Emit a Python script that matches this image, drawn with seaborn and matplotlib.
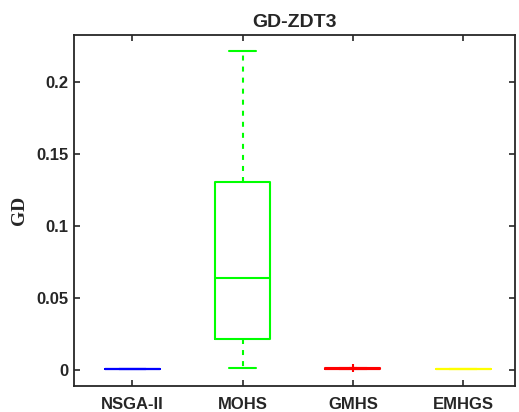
import matplotlib
matplotlib.use("Agg")
import matplotlib.pyplot as plt
import seaborn as sns
import pandas as pd

# GD values per algorithm on ZDT3
methods = ["NSGA-II", "MOHS", "GMHS", "EMHGS"]
nsga2_gd = [0.0007, 0.0008, 0.0008, 0.0009, 0.0009]
mohs_gd = [0.0014, 0.0215, 0.0639, 0.1306, 0.2215]
gmhs_gd = [0.0009, 0.0010, 0.0010, 0.0010, 0.0011, 0.0015]
emhgs_gd = [0.0007, 0.0008, 0.0009, 0.0009, 0.0010]
colors = ["#0000ff", "#00ff00", "#ff0000", "#ffff00"]
yticks = [0, 0.05, 0.1, 0.15, 0.2]
ytick_labels = ["0", "0.05", "0.1", "0.15", "0.2"]

series = [nsga2_gd, mohs_gd, gmhs_gd, emhgs_gd]
df = pd.DataFrame({
    "method": [m for m, vals in zip(methods, series) for _ in vals],
    "GD": [v for vals in series for v in vals],
})

sns.set_style("ticks")
plt.rcParams["font.family"] = ["Liberation Sans", "DejaVu Sans"]

fig = plt.figure(figsize=(5.19, 4.12), dpi=100)
ax = fig.add_axes([74 / 519, 1 - 385.5 / 412, (515 - 74) / 519, (385.5 - 35) / 412])

sns.boxplot(
    data=df, x="method", y="GD", hue="method", order=methods, hue_order=methods,
    palette=colors, fill=False, width=0.5, whis=1.5, linewidth=1.5,
    legend=False, ax=ax,
    whiskerprops={"linestyle": (0, (2.4, 2.9))},
    flierprops={"marker": "+", "markersize": 6, "markeredgewidth": 1.5},
)

ax.set_xlim(-0.53, 3.47)
ax.set_ylim(-0.0108, 0.2326)
ax.set_yticks(yticks)
ax.set_yticklabels(ytick_labels)
ax.set_xlabel("")
ax.set_ylabel("GD", fontfamily="Liberation Serif", fontweight="bold", fontsize=14,
              labelpad=6, color="#262626")
ax.set_title("GD-ZDT3", fontweight="bold", fontsize=14, pad=6, color="#262626")

for lab in ax.get_xticklabels() + ax.get_yticklabels():
    lab.set_fontweight("bold")
    lab.set_color("#262626")
ax.tick_params(axis="both", direction="in", top=True, right=True, length=4,
               width=1.2, labelsize=12, color="#262626")
ax.tick_params(axis="x", pad=8)
ax.tick_params(axis="y", pad=4)
for sp in ax.spines.values():
    sp.set_visible(True)
    sp.set_linewidth(1.3)
    sp.set_color("#262626")

fig.savefig("out.png", dpi=100)
